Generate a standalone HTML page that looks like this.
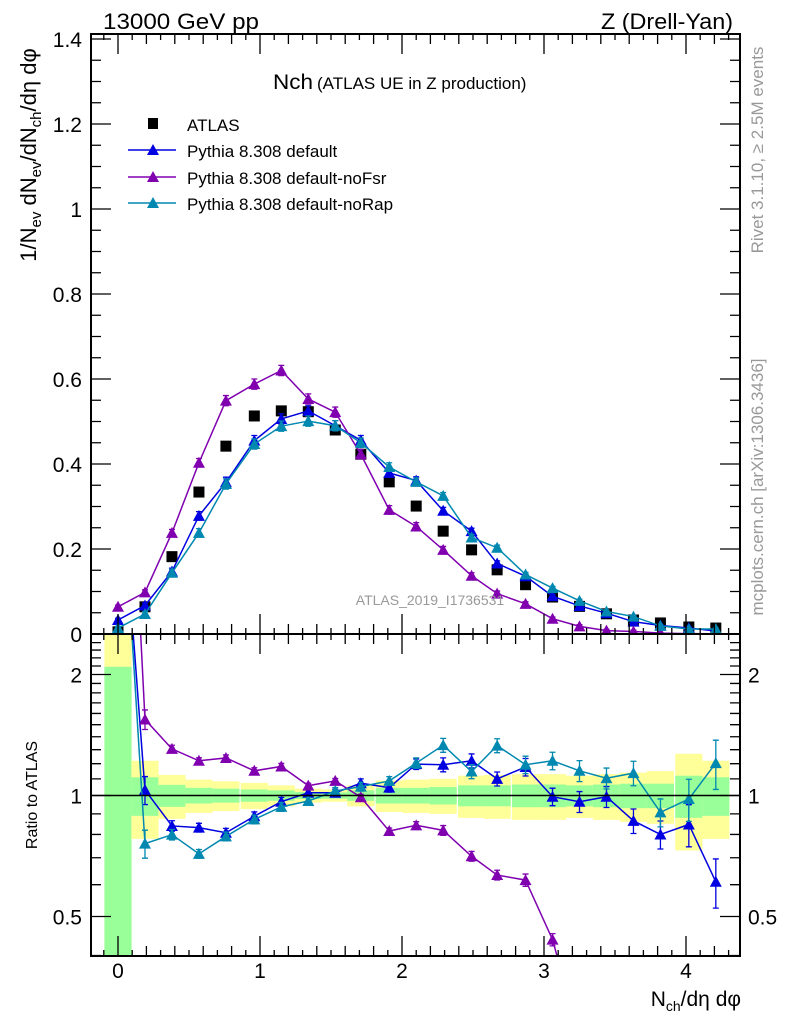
<!DOCTYPE html>
<html><head><meta charset="utf-8"><style>
html,body{margin:0;padding:0;background:#fff;width:786px;height:1024px;overflow:hidden}
svg{display:block;font-family:"Liberation Sans",sans-serif}
</style></head><body>
<svg id="chart" width="786" height="1024" viewBox="0 0 786 1024">
<g id="bands"></g>
<g id="ratio"></g>
<g id="main"></g>
<g id="axes"></g>
<text x="103" y="29" font-size="22" textLength="156" lengthAdjust="spacingAndGlyphs">13000 GeV pp</text>
<text x="733" y="29" font-size="22" text-anchor="end" textLength="132" lengthAdjust="spacingAndGlyphs">Z (Drell-Yan)</text>
<text x="273" y="89" font-size="21"><tspan textLength="40" lengthAdjust="spacingAndGlyphs">Nch</tspan><tspan font-size="17" dx="4">(ATLAS UE in Z production)</tspan></text>
<g>
<rect x="148" y="118" width="10" height="11" fill="#000"/>
<text x="187" y="131" font-size="17">ATLAS</text>
<line x1="128" y1="150" x2="176" y2="150" stroke="#0000e0" stroke-width="1.5"/>
<path d="M147,155 L153,144 L159,155Z" fill="#0000e0"/>
<text x="187" y="157" font-size="17">Pythia 8.308 default</text>
<line x1="128" y1="177" x2="176" y2="177" stroke="#8000b0" stroke-width="1.5"/>
<path d="M147,182 L153,171 L159,182Z" fill="#8000b0"/>
<text x="187" y="184" font-size="17">Pythia 8.308 default-noFsr</text>
<line x1="128" y1="203" x2="176" y2="203" stroke="#0088b0" stroke-width="1.5"/>
<path d="M147,208 L153,197 L159,208Z" fill="#0088b0"/>
<text x="187" y="210" font-size="17">Pythia 8.308 default-noRap</text>
</g>
<text x="430" y="605" font-size="14" fill="#999" text-anchor="middle">ATLAS_2019_I1736531</text>
<text transform="translate(763,150) rotate(-90)" font-size="17" fill="#999" text-anchor="middle">Rivet 3.1.10, ≥ 2.5M events</text>
<text transform="translate(763,487) rotate(-90)" font-size="17" fill="#999" text-anchor="middle">mcplots.cern.ch [arXiv:1306.3436]</text>
<text transform="translate(36,155) rotate(-90)" font-size="22" text-anchor="middle">1/N<tspan font-size="15" dy="5">ev</tspan><tspan dy="-5"> dN</tspan><tspan font-size="15" dy="5">ev</tspan><tspan dy="-5">/dN</tspan><tspan font-size="15" dy="5">ch</tspan><tspan dy="-5">/dη dφ</tspan></text>
<text transform="translate(37,795) rotate(-90)" font-size="16" text-anchor="middle">Ratio to ATLAS</text>
<text x="741" y="1006" font-size="21" text-anchor="end">N<tspan font-size="14" dy="5">ch</tspan><tspan dy="-5">/dη dφ</tspan></text>
</svg>
<script>
const xs = [0,0.19,0.38,0.57,0.76,0.96,1.15,1.34,1.53,1.71,1.91,2.1,2.29,2.49,2.67,2.87,3.06,3.25,3.44,3.63,3.82,4.02,4.21];
const atlas = [0.005,0.064,0.182,0.334,0.442,0.513,0.525,0.523,0.48,0.423,0.358,0.301,0.242,0.198,0.151,0.116,0.087,0.065,0.0475,0.033,0.026,0.0165,0.014];
const pyDefault = [0.033,0.067,0.147,0.278,0.357,0.455,0.506,0.525,0.49,0.456,0.379,0.361,0.29,0.242,0.166,0.136,0.089,0.066,0.049,0.029,0.02,0.014,0.007];
const pyNoFsr = [0.064,0.098,0.238,0.403,0.549,0.588,0.62,0.553,0.522,0.423,0.292,0.253,0.198,0.137,0.095,0.071,0.036,0.018,0.008,0.006,0.002,0.001,0.0005];
const pyNoRap = [0.014,0.047,0.144,0.238,0.353,0.447,0.489,0.501,0.49,0.45,0.393,0.358,0.325,0.227,0.203,0.14,0.108,0.078,0.053,0.041,0.019,0.0118,0.0118];
const ratioDefault = [8,1.032,0.84,0.832,0.808,0.888,0.965,1.016,1.016,1.073,1.046,1.197,1.193,1.22,1.1,1.177,0.993,0.965,0.993,0.865,0.8,0.847,0.61];
const ratioNoFsr = [33,1.546,1.306,1.22,1.24,1.152,1.181,1.058,1.087,0.99,0.816,0.843,0.819,0.706,0.634,0.616,0.438,0.25,0.17,0.15,0.08,0.06,0.04];
const ratioNoRap = [9,0.759,0.799,0.716,0.791,0.872,0.937,0.969,1.026,1.052,1.087,1.204,1.334,1.147,1.331,1.193,1.22,1.152,1.104,1.137,0.908,0.98,1.204];
const ratioErr = [0.05,0.08,0.03,0.025,0.025,0.025,0.025,0.02,0.02,0.025,0.025,0.03,0.04,0.04,0.04,0.05,0.05,0.06,0.06,0.07,0.08,0.12,0.14];
const mainErr = [0.004,0.006,0.008,0.01,0.012,0.012,0.012,0.012,0.012,0.011,0.01,0.009,0.008,0.007,0.006,0.005,0.004,0.004,0.003,0.003,0.002,0.002,0.002];
const greenErr = [1.09,0.11,0.063,0.045,0.04,0.035,0.03,0.02,0.018,0.03,0.045,0.045,0.05,0.06,0.06,0.065,0.065,0.06,0.065,0.07,0.07,0.12,0.11];
const yellowErr = [2.0,0.22,0.125,0.095,0.085,0.075,0.06,0.04,0.035,0.06,0.09,0.095,0.1,0.12,0.125,0.13,0.13,0.12,0.13,0.14,0.15,0.27,0.22];
const mainYTicks = ["0","0.2","0.4","0.6","0.8","1","1.2","1.4"];
const xTicks = ["0","1","2","3","4"];
const ratioTicks = [0.5,1,2];

const NS="http://www.w3.org/2000/svg";
const L=91,R=740,MT=34,MB=634,RT=634,RB=956;
const X=v=>118+v*142;
const Y=v=>634-v*425;
const RY=v=>795.5-Math.log10(v)*402;
const BW=0.0957;
function mk(tag,attrs,parent){const e=document.createElementNS(NS,tag);for(const k in attrs)e.setAttribute(k,attrs[k]);parent.appendChild(e);return e;}
const defs=mk('defs',{},document.getElementById('chart'));
const cp1=mk('clipPath',{id:'clipMain'},defs);mk('rect',{x:L,y:MT,width:R-L,height:MB-MT},cp1);
const cp2=mk('clipPath',{id:'clipRatio'},defs);mk('rect',{x:L,y:RT,width:R-L,height:RB-RT},cp2);

const bands=document.getElementById('bands');
bands.setAttribute('clip-path','url(#clipRatio)');
xs.forEach((x,i)=>{
  const x0=Math.max(X(x-BW),L),x1=X(x+BW);
  const yl=Math.max(1-yellowErr[i],0.01), gl=Math.max(1-greenErr[i],0.01);
  const r1=mk('rect',{x:x0,y:RY(1+yellowErr[i]),width:x1-x0,height:RY(yl)-RY(1+yellowErr[i]),fill:'#ffff99'},bands);
  
  
  const r2=mk('rect',{x:x0,y:RY(1+greenErr[i]),width:x1-x0,height:RY(gl)-RY(1+greenErr[i]),fill:'#99ff99'},bands);
  
  
});

function tri(g,cx,cy,c,name){const p=mk('path',{d:`M${cx-6},${cy+5} L${cx},${cy-6} L${cx+6},${cy+5}Z`,fill:c},g);}
function series(g,vals,yf,c,name,errs){
  const pts=xs.map((x,i)=>X(x)+','+yf(vals[i])).join(' ');
  const pl=mk('polyline',{points:pts,fill:'none',stroke:c,'stroke-width':1.5},g);
  
  
  xs.forEach((x,i)=>{
    const cy=yf(vals[i]);
    if(errs){const e=errs(i);const l=mk('path',{d:`M${X(x)},${e[0]} V${e[1]} M${X(x)-3},${e[0]} H${X(x)+3} M${X(x)-3},${e[1]} H${X(x)+3}`,stroke:c,'stroke-width':1.3,fill:'none'},g);
      
      }
    tri(g,X(x),cy,c,name+'-point');
  });
}
const main=document.getElementById('main');
main.setAttribute('clip-path','url(#clipMain)');
xs.forEach((x,i)=>{const r=mk('rect',{x:X(x)-5.5,y:Y(atlas[i])-5.5,width:11,height:11,fill:'#000'},main);
  
  });
series(main,pyDefault,Y,'#0000e0','default',i=>[Y(pyDefault[i]+mainErr[i]),Y(pyDefault[i]-mainErr[i])]);
series(main,pyNoFsr,Y,'#8000b0','nofsr',i=>[Y(pyNoFsr[i]+mainErr[i]),Y(pyNoFsr[i]-mainErr[i])]);
series(main,pyNoRap,Y,'#0088b0','norap',i=>[Y(pyNoRap[i]+mainErr[i]),Y(pyNoRap[i]-mainErr[i])]);

const ratio=document.getElementById('ratio');
ratio.setAttribute('clip-path','url(#clipRatio)');
series(ratio,ratioDefault,RY,'#0000e0','ratio-default',i=>[RY(ratioDefault[i]*(1+ratioErr[i])),RY(ratioDefault[i]*(1-ratioErr[i]))]);
series(ratio,ratioNoFsr,RY,'#8000b0','ratio-nofsr',i=>[RY(ratioNoFsr[i]*(1+ratioErr[i]*0.7)),RY(ratioNoFsr[i]*(1-ratioErr[i]*0.7))]);
series(ratio,ratioNoRap,RY,'#0088b0','ratio-norap',i=>[RY(ratioNoRap[i]*(1+ratioErr[i])),RY(ratioNoRap[i]*(1-ratioErr[i]))]);
const one=mk('line',{x1:L,x2:R,y1:RY(1),y2:RY(1),stroke:'#000','stroke-width':1.5},ratio);



const ax=document.getElementById('axes');
mk('rect',{x:L,y:MT,width:R-L,height:MB-MT,fill:'none',stroke:'#000','stroke-width':2},ax);
mk('rect',{x:L,y:RT,width:R-L,height:RB-RT,fill:'none',stroke:'#000','stroke-width':2},ax);
let d='';
for(let k=0;k<=28;k++){const v=k*0.05,y=Y(v);const len=k%4==0?20:10;d+=`M${L},${y}h${len}M${R},${y}h${-len}`;}
for(let k=-1;k<=43;k++){const v=k*0.1,x=X(v);if(x<L||x>R)continue;const len=k%10==0?20:(k%2==0?10:6);
  d+=`M${x},${MB}v${-len}M${x},${MT}v${len}M${x},${RB}v${-len}M${x},${RT}v${len}`;}
for(let v=0.4;v<=2.5;v+=0.1){const y=RY(v);const maj=[0.5,1,2].some(m=>Math.abs(m-v)<1e-6);const len=maj?20:10;d+=`M${L},${y}h${len}M${R},${y}h${-len}`;}
mk('path',{d:d,stroke:'#000','stroke-width':1.3,fill:'none'},ax);
mainYTicks.forEach((t,i)=>{const e=mk('text',{x:82,y:Y(i*0.2)+8,'font-size':21,'text-anchor':'end'},ax);e.textContent=t;
  
  });
xTicks.forEach((t,i)=>{const e=mk('text',{x:X(i),y:978,'font-size':21,'text-anchor':'middle'},ax);e.textContent=t;
  
  });
ratioTicks.forEach(v=>{[[82,'end'],[748,'start']].forEach(p=>{const e=mk('text',{x:p[0],y:RY(v)+8,'font-size':21,'text-anchor':p[1]},ax);e.textContent=String(v);
  
  });});
</script>
</body></html>
